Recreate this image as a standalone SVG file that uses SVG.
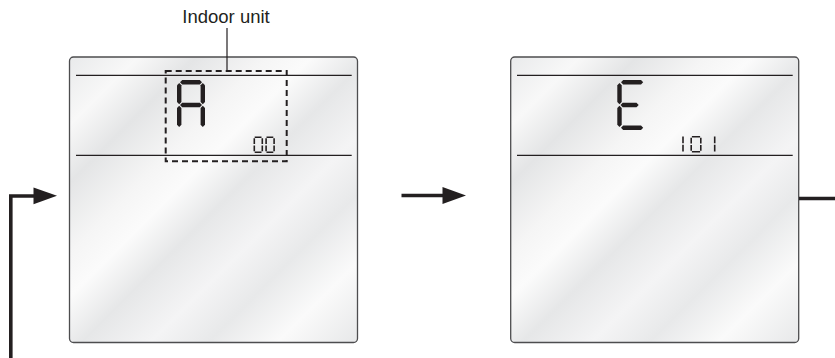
<svg xmlns="http://www.w3.org/2000/svg" width="835" height="358" viewBox="0 0 835 358">
  <defs>
    <linearGradient id="glare" x1="0" y1="0" x2="1" y2="1">
      <stop offset="0" stop-color="#e9eaeb"/>
      <stop offset="0.12" stop-color="#f8f8f8"/>
      <stop offset="0.22" stop-color="#e4e5e6"/>
      <stop offset="0.34" stop-color="#f5f5f5"/>
      <stop offset="0.42" stop-color="#fbfbfb"/>
      <stop offset="0.52" stop-color="#e6e7e8"/>
      <stop offset="0.64" stop-color="#f4f4f5"/>
      <stop offset="0.74" stop-color="#e8e9ea"/>
      <stop offset="0.86" stop-color="#fafafa"/>
      <stop offset="1" stop-color="#e7e8e9"/>
    </linearGradient>
    <style>
      .panel { fill: url(#glare); stroke: #4d4d4f; stroke-width: 1.3; }
      .rule { stroke: #231f20; stroke-width: 1.3; fill: none; }
      .seg { fill: #231f20; }
      .small { stroke: #231f20; stroke-width: 1.6; fill: none; stroke-linecap: butt; }
      .conn { stroke: #231f20; stroke-width: 3.6; fill: none; }
      .head { fill: #231f20; }
      .lbl { font-family: "Liberation Sans", Arial, sans-serif; font-size: 18.5px; fill: #231f20; }
    </style>
  </defs>

  <g id="panel-1">
    <rect class="panel" x="69.5" y="57" width="288" height="285.5" rx="4"/>
    <line class="rule" x1="76" y1="75.3" x2="351.7" y2="75.3"/>
    <line class="rule" x1="76" y1="155.3" x2="351.7" y2="155.3"/>
    <rect x="165.7" y="71" width="121" height="90.3" fill="none" stroke="#231f20" stroke-width="2" stroke-dasharray="6,4"/>
    <g id="digit-A" class="seg">
      <polygon points="180,82.2 182.2,80 199.8,80 202,82.2 199.8,84.4 182.2,84.4"/>
      <polygon points="179.2,83 181.4,85.2 181.4,101.9 179.2,104.2 177,101.9 177,85.2"/>
      <polygon points="202.8,83 205,85.2 205,101.9 202.8,104.2 200.6,101.9 200.6,85.2"/>
      <polygon points="180,105 182.2,102.8 199.8,102.8 202,105 199.8,107.2 182.2,107.2"/>
      <polygon points="179.2,105.8 181.4,108 181.4,124.8 179.2,127 177,124.8 177,108"/>
      <polygon points="202.8,105.8 205,108 205,124.8 202.8,127 200.6,124.8 200.6,108"/>
    </g>
    <g id="digits-00" class="small">
      <path d="M254.7 137.3H261.5M254.3 138.3V144M262.3 138.3V144M254.3 145.5V151.2M262.3 145.5V151.2M254.7 152.2H261.5"/>
      <path d="M266.5 137.3H273.3M266.1 138.3V144M274.1 138.3V144M266.1 145.5V151.2M274.1 145.5V151.2M266.5 152.2H273.3"/>
    </g>
  </g>

  <g id="label-indoor-unit">
    <text class="lbl" x="226" y="23.3" text-anchor="middle">Indoor unit</text>
    <line x1="227" y1="28" x2="227" y2="71" stroke="#231f20" stroke-width="1.2"/>
  </g>

  <g id="panel-2">
    <rect class="panel" x="510.7" y="57" width="288" height="285.5" rx="4"/>
    <line class="rule" x1="517" y1="75.3" x2="792.7" y2="75.3"/>
    <line class="rule" x1="517" y1="155.3" x2="792.7" y2="155.3"/>
    <g id="digit-E" class="seg">
      <polygon points="621,82.2 623.2,80 641,80 643.2,82.2 641,84.4 623.2,84.4"/>
      <polygon points="619.5,83 621.7,85.2 621.7,102 619.5,104.2 617.3,102 617.3,85.2"/>
      <polygon points="620.5,105 622.7,102.8 636.5,102.8 638.7,105 636.5,107.2 622.7,107.2"/>
      <polygon points="619.5,105.8 621.7,108 621.7,124.8 619.5,127 617.3,124.8 617.3,108"/>
      <polygon points="621,127.8 623.2,125.6 641,125.6 643.2,127.8 641,130 623.2,130"/>
    </g>
    <g id="digits-101" class="small">
      <path d="M683 136.5V143.2M683 144.8V151.5"/>
      <path d="M691.9 136.8H700.1M691.2 137.8V143.5M700.8 137.8V143.5M691.2 145V150.7M700.8 145V150.7M691.9 151.7H700.1"/>
      <path d="M714.7 136.5V143.2M714.7 144.8V151.5"/>
    </g>
  </g>

  <g id="connectors">
    <path class="conn" d="M10.8 358V196H36"/>
    <polygon class="head" points="33.5,187.5 57,195.8 33.5,204.2"/>
    <path class="conn" d="M401.5 195.5H445"/>
    <polygon class="head" points="442.5,187 466,195.5 442.5,204"/>
    <path class="conn" d="M799 198.5H835"/>
  </g>
</svg>
